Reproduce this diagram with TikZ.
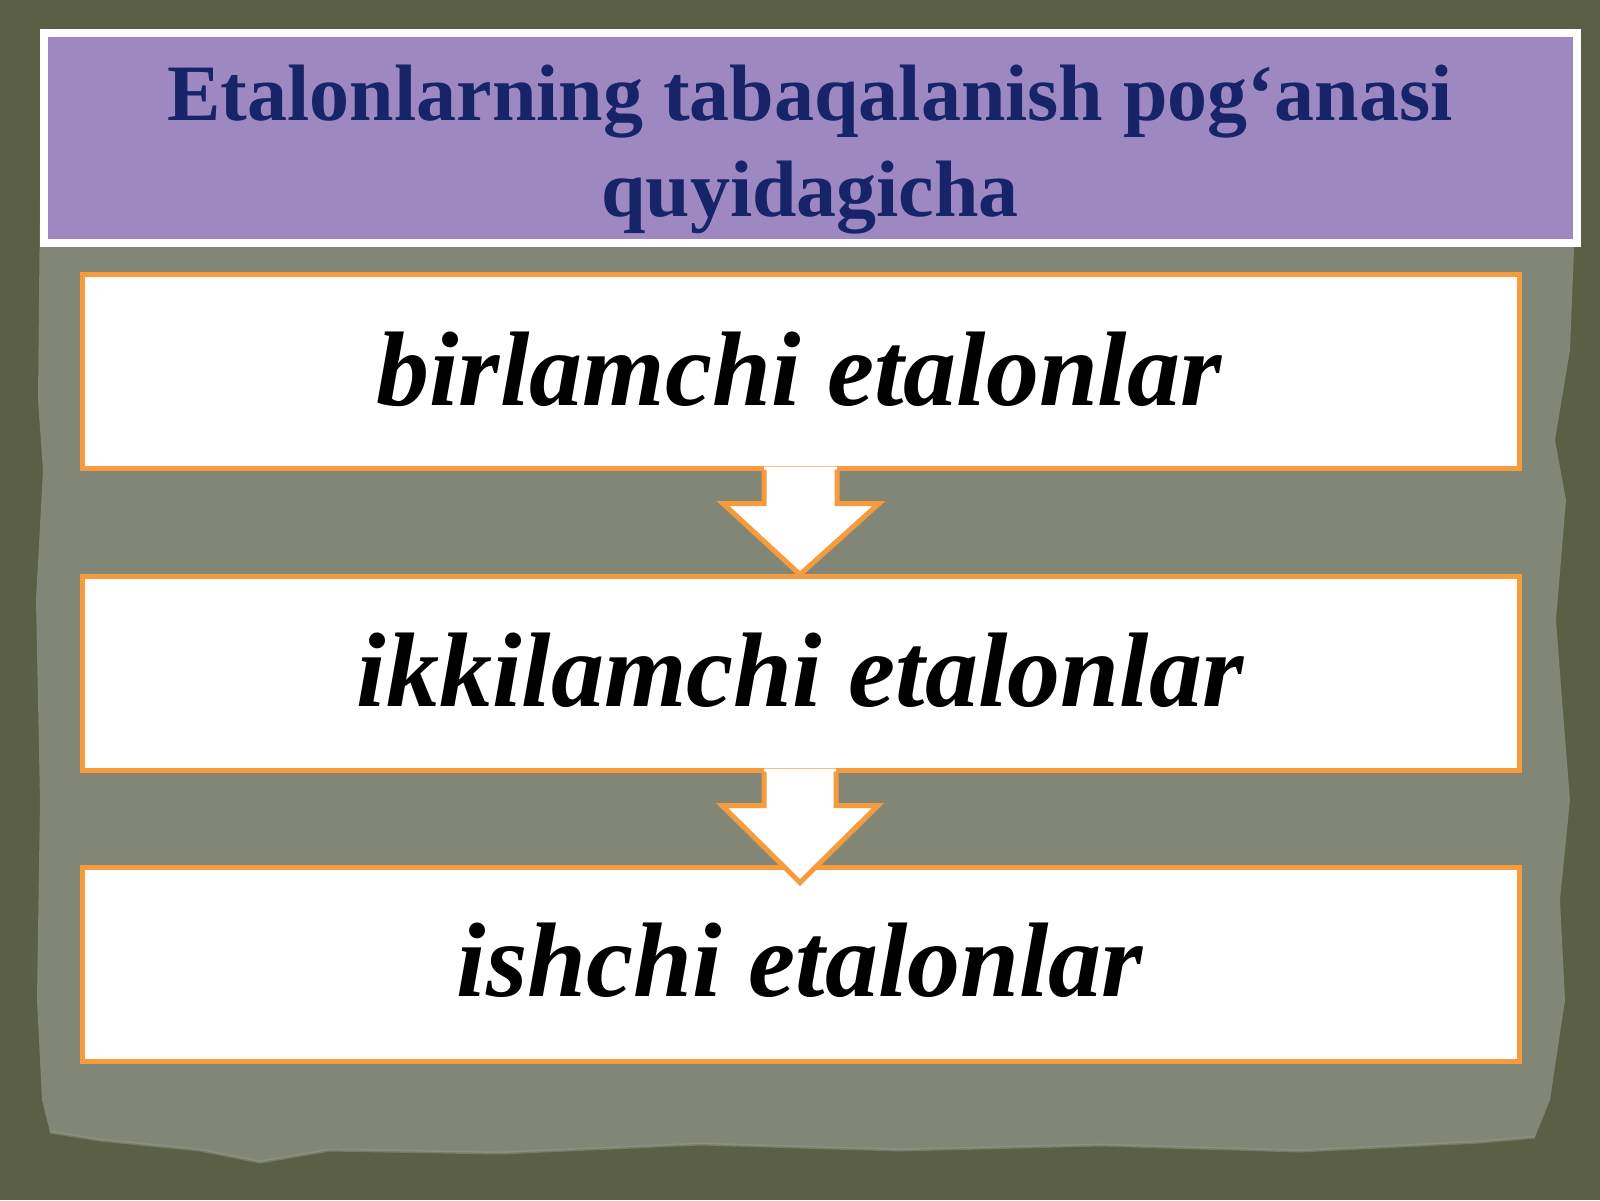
\documentclass[tikz,border=0pt]{standalone}
\usepackage{fontspec}
\setmainfont{Liberation Serif}
\usetikzlibrary{calc}
\definecolor{bgolive}{RGB}{90,95,70}
\definecolor{paper}{RGB}{129,134,119}
\definecolor{paperrim}{RGB}{150,155,138}
\definecolor{ttlpurple}{RGB}{158,136,194}
\definecolor{ttlnavy}{RGB}{24,36,104}
\definecolor{boxorange}{RGB}{247,155,60}
\tikzset{
  titlebox/.style={draw=white, fill=ttlpurple, line width=4pt, minimum width=766.5pt, minimum height=105pt, inner sep=0pt},
  levelbox/.style={draw=boxorange, fill=white, line width=2.5pt, minimum width=718.5pt, minimum height=97pt, inner sep=0pt},
  titletext/.style={anchor=base, inner sep=0pt, text=ttlnavy, font=\fontsize{40}{48}\selectfont\bfseries},
  leveltext/.style={anchor=base, inner sep=0pt, text=black, font=\fontsize{53}{60}\selectfont\bfseries\itshape},
  arrowfill/.style={fill=white},
  arrowline/.style={draw=boxorange, line width=2.5pt, line join=miter}
}
\begin{document}
\begin{tikzpicture}[x=0.5pt, y=-0.5pt]
\useasboundingbox (0,0) rectangle (1600,1200);
% background
\fill[bgolive] (0,0) rectangle (1600,1200);
% torn paper
\fill[paper] (42,60) -- (40,200) -- (38,400) -- (43,470) -- (36,600) -- (40,800) -- (37,1000) -- (42,1100) -- (50,1132)
  -- (100,1140) -- (200,1150) -- (260,1162) -- (330,1150) -- (500,1153) -- (700,1144) -- (900,1150) -- (1100,1145) -- (1300,1151) -- (1480,1142) -- (1535,1137)
  -- (1550,1100) -- (1565,1000) -- (1560,900) -- (1570,800) -- (1562,700) -- (1556,620) -- (1566,500) -- (1555,440) -- (1570,350) -- (1574,250) -- (1574,60) -- cycle;
\draw[paperrim, line width=1.5pt, opacity=0.5] (50,1132) -- (100,1140) -- (200,1150) -- (260,1162) -- (330,1150) -- (500,1153) -- (700,1144) -- (900,1150) -- (1100,1145) -- (1300,1151) -- (1480,1142) -- (1535,1137);
% title
\node[titlebox] (title) at (810,138) {};
\node[titletext] (ttl1) at (810,120) {Etalonlarning tabaqalanish pog‘anasi};
\node[titletext] (ttl2) at (810,216) {quyidagicha};
% boxes
\node[levelbox] (b1) at (801,371) {};
\node[levelbox] (b2) at (801,673) {};
\node[levelbox] (b3) at (801,964) {};
\node[leveltext] (t1) at (799,405) {birlamchi etalonlar};
\node[leveltext] (t2) at (800,706) {ikkilamchi etalonlar};
\node[leveltext] (t3) at (800,996) {ishchi etalonlar};
% block arrows
\fill[arrowfill] ($(b1.south)+(-37,-4)$) -- ($(b1.south)+(-37,33)$) -- ($(b1.south)+(-78,33)$) -- ($(b1.south)+(-1,104)$)
  -- ($(b1.south)+(78,33)$) -- ($(b1.south)+(36,33)$) -- ($(b1.south)+(36,-4)$) -- cycle;
\draw[arrowline] ($(b1.south)+(-37,-1)$) -- ($(b1.south)+(-37,33)$) -- ($(b1.south)+(-78,33)$) -- ($(b1.south)+(-1,104)$)
  -- ($(b1.south)+(78,33)$) -- ($(b1.south)+(36,33)$) -- ($(b1.south)+(36,-1)$);
\fill[arrowfill] ($(b2.south)+(-37,-4)$) -- ($(b2.south)+(-37,33)$) -- ($(b2.south)+(-79,33)$) -- ($(b2.south)+(-1,110)$)
  -- ($(b2.south)+(77,33)$) -- ($(b2.south)+(35,33)$) -- ($(b2.south)+(35,-4)$) -- cycle;
\draw[arrowline] ($(b2.south)+(-37,-1)$) -- ($(b2.south)+(-37,33)$) -- ($(b2.south)+(-79,33)$) -- ($(b2.south)+(-1,110)$)
  -- ($(b2.south)+(77,33)$) -- ($(b2.south)+(35,33)$) -- ($(b2.south)+(35,-1)$);
\end{tikzpicture}
\end{document}
